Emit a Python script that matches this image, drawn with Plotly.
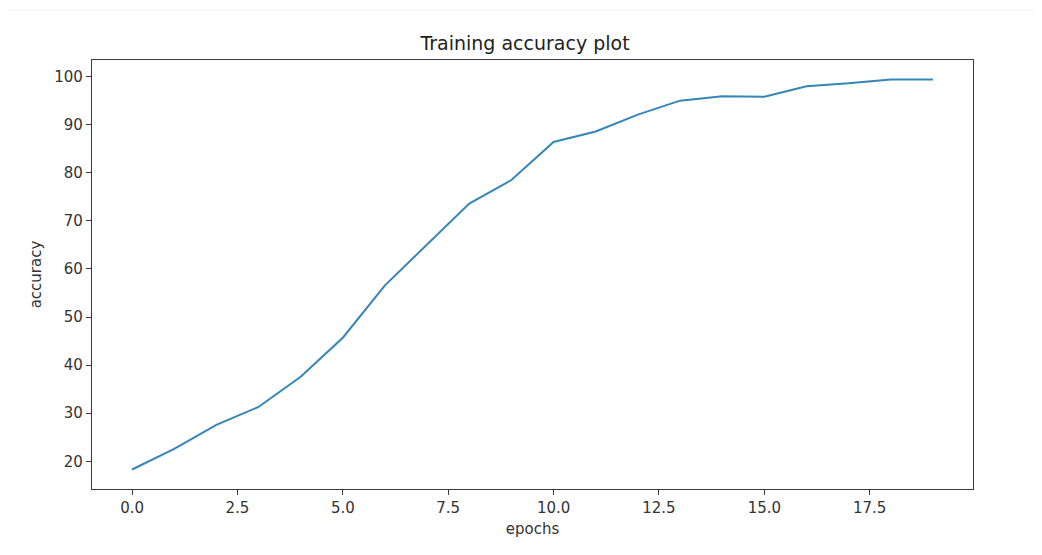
import plotly.graph_objects as go

epochs = list(range(20))
accuracy = [18.3, 22.6, 27.6, 31.3, 37.6, 45.7, 56.6, 65.1, 73.6, 78.5,
            86.4, 88.6, 92.1, 95.0, 95.9, 95.8, 98.0, 98.6, 99.4, 99.4]

x_ticks = [0, 2.5, 5, 7.5, 10, 12.5, 15, 17.5]
x_tick_labels = ["0.0", "2.5", "5.0", "7.5", "10.0", "12.5", "15.0", "17.5"]
y_ticks = [20, 30, 40, 50, 60, 70, 80, 90, 100]

font_family = "DejaVu Sans"
axis_color = "#3a3a3a"
text_color = "#333333"

W, H = 1034, 547
L, T, R, B = 84, 52, 69, 66
plot_w = W - L - R
plot_h = H - T - B

fig = go.Figure()
fig.add_trace(go.Scatter(
    x=epochs, y=accuracy, mode="lines",
    line=dict(color="#3585b9", width=2),
    showlegend=False,
))

lo, hi = min(accuracy), max(accuracy)
pad = (hi - lo) * 0.05

fig.update_layout(
    width=W, height=H,
    margin=dict(l=L, r=R, t=T, b=B),
    paper_bgcolor="white", plot_bgcolor="white",
    font=dict(family=font_family, color=text_color, size=15),
    title=dict(text="Training accuracy plot", x=0.5, xanchor="center",
               y=1 - 35 / H, yanchor="middle", yref="container",
               font=dict(size=19, family=font_family, color="#222222")),
    xaxis=dict(
        range=[-0.95, 19.95], tickvals=x_ticks, ticktext=x_tick_labels,
        showgrid=False, zeroline=False, showline=True, mirror=True,
        linecolor=axis_color, linewidth=1.3,
        ticks="outside", ticklen=5, tickwidth=1, tickcolor=axis_color,
        tickfont=dict(size=15, color=text_color),
        title=dict(text="epochs", standoff=7, font=dict(size=15, color=text_color)),
    ),
    yaxis=dict(
        range=[lo - pad, hi + pad], tickvals=y_ticks,
        showgrid=False, zeroline=False, showline=True, mirror=True,
        linecolor=axis_color, linewidth=1.3,
        ticks="outside", ticklen=5, tickwidth=1, tickcolor=axis_color,
        tickfont=dict(size=15, color=text_color),
        title=dict(text="accuracy", standoff=8, font=dict(size=15, color=text_color)),
    ),
)

# faint separator line near the top of the page
line_y = 1 + (T - 2) / plot_h
fig.add_shape(type="line", xref="paper", yref="paper",
              x0=-(L + 8) / plot_w, x1=(W - L) / plot_w, y0=line_y, y1=line_y,
              line=dict(color="#eeeeee", width=1), layer="below")

fig.write_html("out.html")
